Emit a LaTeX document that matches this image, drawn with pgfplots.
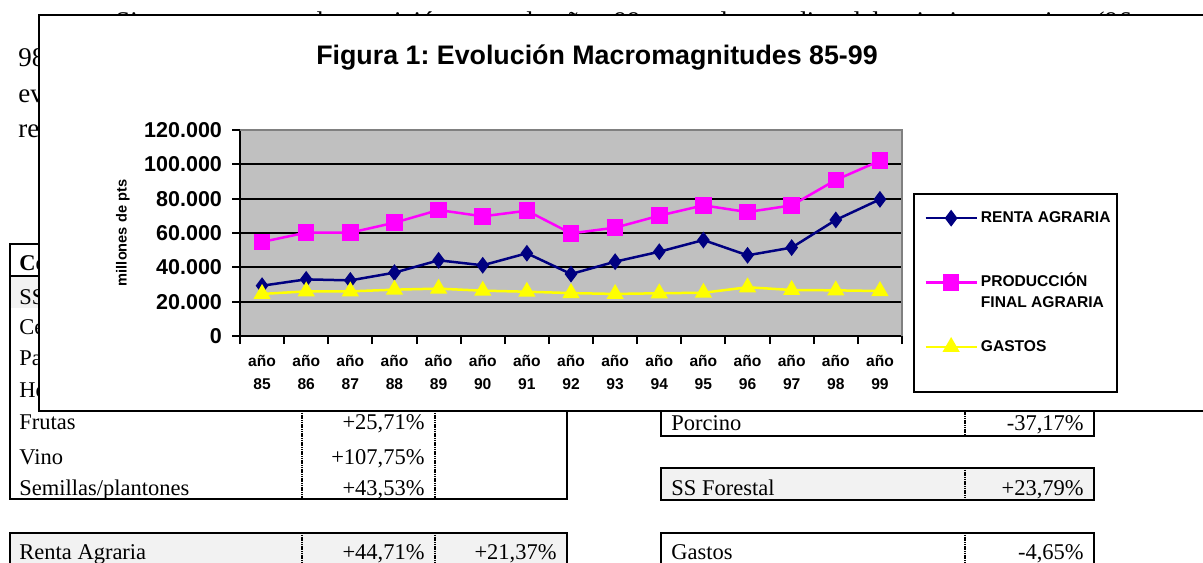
\documentclass[border=0pt]{standalone}
\usepackage{fontspec}
\setmainfont{Liberation Serif}
\setsansfont{Liberation Sans}
\usepackage{pgfplots}
\pgfplotsset{compat=1.18}
\definecolor{navy}{RGB}{0,0,128}
\definecolor{rosa}{RGB}{255,0,255}
\definecolor{amarillo}{RGB}{255,255,0}
\definecolor{fondo}{RGB}{192,192,192}
\definecolor{marco}{RGB}{128,128,128}
\definecolor{celda}{RGB}{242,242,242}
\newcommand{\tabfont}{\fontsize{11.25}{13}\selectfont}
\newcommand{\legfont}{\fontsize{7.8}{10.5}\selectfont\sffamily\bfseries}
\frenchspacing

\begin{document}
\begin{tikzpicture}
\useasboundingbox (0,0) rectangle (601.5pt,-281pt);
\clip (0,0) rectangle (601.5pt,-281pt);
\begin{scope}[x=0.5pt,y=-0.5pt]
  \tikzset{izq/.style={anchor=base west, inner sep=0pt, font=\tabfont},
           der/.style={anchor=base east, inner sep=0pt, font=\tabfont}}
  % page text behind the chart
  \node[anchor=base west, inner sep=0pt, font=\fontsize{13.5}{18}\selectfont] at (115,30)
    {\makebox[512.5pt][s]{Si comparamos la posición en el año 99 con la media del trienio anterior (96-}};
  \node[anchor=base west, inner sep=0pt, font=\fontsize{13.5}{18}\selectfont] at (18,66.5) {98), se observa};
  \node[anchor=base west, inner sep=0pt, font=\fontsize{13.5}{18}\selectfont] at (18,102) {evolución};
  \node[anchor=base west, inner sep=0pt, font=\fontsize{13.5}{18}\selectfont] at (18,137.5) {respecto};
  % left table
  \fill[celda] (9.6,276) rectangle (567,308);
  \draw[line width=1pt] (9.6,244) rectangle (567,499);
  \draw[line width=1pt] (9.6,276) -- (567,276);
  \draw[line width=1pt, dash pattern=on 0.6pt off 0.3pt] (302,276) -- (302,499) (435,276) -- (435,499);
  \node[izq, font=\tabfont\bfseries] at (19,270) {Concepto};
  \foreach \t/\y in {SS Agrícola/304, Cereales/334.5, Patata/365.5, Hortalizas/397.5, Frutas/429.5, Vino/464}
    \node[izq] at (19,\y) {\t};
  \node[izq] at (19,495.5) {Semillas/plantones};
  \node[der] at (425,429.5) {+25,71\%};
  \node[der] at (425,464) {+107,75\%};
  \node[der] at (425,495.5) {+43,53\%};
  \fill[celda] (9.6,533) rectangle (567,600);
  \draw[line width=1pt] (9.6,533) rectangle (567,600);
  \draw[line width=1pt, dash pattern=on 0.6pt off 0.3pt] (302,533) -- (302,600) (435,533) -- (435,600);
  \node[izq] at (19,559) {Renta Agraria};
  \node[der] at (425,559) {+44,71\%};
  \node[der] at (557,559) {+21,37\%};
  % right tables
  \draw[line width=1pt] (661,380) rectangle (1094,436);
  \draw[line width=1pt, dash pattern=on 0.6pt off 0.3pt] (965,380) -- (965,436);
  \node[izq] at (671,430) {Porcino};
  \node[der] at (1084,430) {-37,17\%};
  \fill[celda] (661,468) rectangle (1094,500);
  \draw[line width=1pt] (661,468) rectangle (1094,500);
  \draw[line width=1pt, dash pattern=on 0.6pt off 0.3pt] (965,468) -- (965,500);
  \node[izq] at (671,495) {SS Forestal};
  \node[der] at (1084,495) {+23,79\%};
  \draw[line width=1pt] (661,533) rectangle (1094,600);
  \draw[line width=1pt, dash pattern=on 0.6pt off 0.3pt] (965,533) -- (965,600);
  \node[izq] at (671,559) {Gastos};
  \node[der] at (1084,559) {-4,65\%};
  % chart frame, title and legend box
  \draw[line width=1pt, fill=white] (39,15) rectangle (1240,411);
  \node[anchor=base, inner sep=0pt, font=\fontsize{13.4}{16}\selectfont\sffamily\bfseries] at (597,64)
    {Figura 1: Evolución Macromagnitudes 85-99};
  \draw[line width=1pt] (914,194) rectangle (1117,392);
\end{scope}

\begin{axis}[
  at={(120pt,-168pt)}, anchor=south west,
  scale only axis, width=331pt, height=103pt,
  xmin=-0.5, xmax=14.5, ymin=0, ymax=120000,
  axis lines=left, axis line style={-, line width=1pt, black},
  axis background/.style={fill=fondo},
  tick align=outside, major tick length=4pt,
  tick style={black, line width=1pt},
  xtick={-0.5,0.5,...,14.5},
  x tick label as interval,
  xticklabels={{año\\85},{año\\86},{año\\87},{año\\88},{año\\89},{año\\90},{año\\91},{año\\92},{año\\93},{año\\94},{año\\95},{año\\96},{año\\97},{año\\98},{año\\99}},
  xticklabel style={font=\fontsize{7.8}{11.5}\selectfont\sffamily\bfseries, align=center, yshift=-2pt},
  scaled y ticks=false,
  ytick={0,20000,...,120000},
  yticklabels={0,20.000,40.000,60.000,80.000,100.000,120.000},
  yticklabel style={font=\fontsize{10.75}{12}\selectfont\sffamily\bfseries, xshift=-1.5pt},
  ymajorgrids, major grid style={black, line width=1pt},
  every axis y label/.style={at={(axis description cs:-0.1768,0.5)}, rotate=90, anchor=center},
  ylabel={millones de pts},
  ylabel style={font=\fontsize{7.3}{9}\selectfont\sffamily\bfseries},
  legend cell align=left,
  legend image code/.code={\draw[mark repeat=2,mark phase=2,#1] plot coordinates {(0pt,0pt) (12.75pt,0pt) (25.5pt,0pt)};},
  legend style={at={(axis description cs:1.0332,0.6083)}, anchor=north west,
    draw=none, fill=none, inner sep=0pt, font=\legfont,
    nodes={inner sep=0pt}, row sep=25pt, column sep=1.5pt},
  clip=false,
  extra description/.code={
    \draw[marco, line width=1pt] (rel axis cs:0,1) -- (rel axis cs:1,1) -- (rel axis cs:1,0);
  },
]
\addplot[navy, line width=1.25pt, mark=diamond*, mark size=3.2pt, mark options={fill=navy}] coordinates {
  (0,29300) (1,33000) (2,32400) (3,36900) (4,44100) (5,41200) (6,48200) (7,36100)
  (8,43300) (9,49100) (10,55900) (11,47000) (12,51500) (13,67600) (14,79600)
};
\addlegendentry{\raisebox{0pt}[5.6pt][0pt]{RENTA AGRARIA}}
\addplot[rosa, line width=1.25pt, mark=square*, mark size=3.5pt, mark options={fill=rosa}] coordinates {
  (0,54800) (1,60200) (2,60200) (3,66000) (4,73400) (5,69700) (6,73000) (7,59800)
  (8,63100) (9,70100) (10,76100) (11,72200) (12,76100) (13,90900) (14,102100)
};
\addlegendentry{\raisebox{0pt}[5.6pt][0pt]{\parbox[t]{80pt}{PRODUCCIÓN\\FINAL AGRARIA}}}
\addplot[amarillo, line width=1.25pt, mark=triangle*, mark size=3.75pt, mark options={fill=amarillo}] coordinates {
  (0,24500) (1,26000) (2,26000) (3,27000) (4,27600) (5,26400) (6,25800) (7,25000)
  (8,24500) (9,24900) (10,25200) (11,28400) (12,26800) (13,26600) (14,26200)
};
\addlegendentry{\raisebox{0pt}[5.6pt][0pt]{GASTOS}}
\end{axis}
\end{tikzpicture}
\end{document}
